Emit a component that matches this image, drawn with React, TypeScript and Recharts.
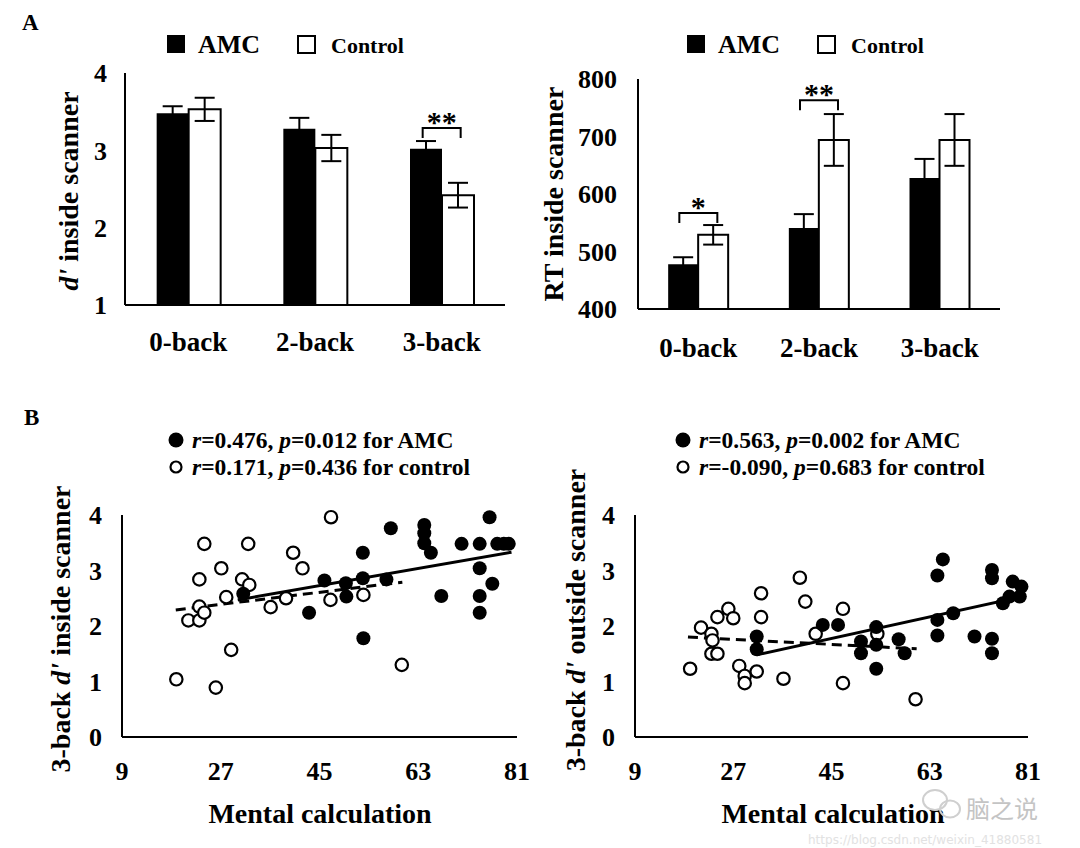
import React from 'react';
import {
  BarChart,
  Bar,
  ErrorBar,
  XAxis,
  YAxis,
  ReferenceDot,
  ScatterChart,
  Scatter,
  ReferenceLine,
} from 'recharts';

const FONT = "'Liberation Serif', 'Times New Roman', serif";

// Panel A: n-back performance inside the scanner
const conditions = ['0-back', '2-back', '3-back'];
const dprimeAmc = [3.48, 3.28, 3.02];
const dprimeAmcErr = [0.09, 0.14, 0.1];
const dprimeCtrl = [3.53, 3.03, 2.42];
const dprimeCtrlErr = [0.15, 0.17, 0.16];
const dprimeTicks = [1, 2, 3, 4];

const rtAmc = [478, 541, 628];
const rtAmcErr = [12, 24, 33];
const rtCtrl = [529, 694, 694];
const rtCtrlErr = [17, 45, 45];
const rtTicks = [400, 500, 600, 700, 800];

// significance brackets (y in data units)
const dprimeSig = [{ cond: '3-back', y: 3.29, label: '**' }];
const rtSig = [
  { cond: '0-back', y: 567, label: '*' },
  { cond: '2-back', y: 763, label: '**' },
];

// Panel B: mental calculation vs 3-back d'
const calcTicks = [9, 27, 45, 63, 81];
const dTicks = [0, 1, 2, 3, 4];

const amcInside = [
  [58.0, 3.76], [64.1, 3.82], [64.1, 3.67], [64.1, 3.49], [65.3, 3.32],
  [76.0, 3.96], [70.9, 3.48], [74.2, 3.48], [77.4, 3.48], [78.6, 3.48],
  [79.5, 3.48], [74.2, 3.04], [76.5, 2.76], [74.2, 2.54], [74.2, 2.24],
  [67.2, 2.54], [52.9, 3.32], [52.9, 2.86], [45.9, 2.82], [49.8, 2.77],
  [49.9, 2.53], [57.2, 2.84], [43.1, 2.24], [53.0, 1.78], [31.1, 2.58],
];
const ctrlInside = [
  [18.9, 1.04], [26.1, 0.89], [28.9, 1.57], [21.1, 2.1], [23.1, 2.1],
  [23.1, 2.35], [24.0, 2.24], [23.1, 2.84], [24.0, 3.48], [27.1, 3.04],
  [28.0, 2.52], [30.9, 2.84], [32.2, 2.74], [32.0, 3.48], [36.1, 2.34],
  [38.9, 2.5], [40.2, 3.32], [41.9, 3.04], [47.1, 3.96], [47.0, 2.47],
  [53.0, 2.56], [60.0, 1.3],
];
const amcOutside = [
  [31.3, 1.81], [31.3, 1.58], [43.4, 2.02], [46.2, 2.02], [50.4, 1.72],
  [50.4, 1.51], [53.2, 1.98], [53.2, 1.66], [53.2, 1.23], [57.3, 1.76],
  [58.4, 1.51], [64.4, 2.91], [65.4, 3.2], [64.4, 2.11], [64.4, 1.83],
  [67.3, 2.23], [71.2, 1.81], [74.4, 3.01], [74.4, 2.86], [74.4, 1.77],
  [74.4, 1.51], [76.4, 2.41], [78.2, 2.8], [79.8, 2.71], [77.6, 2.53],
  [79.5, 2.53],
];
const ctrlOutside = [
  [19.1, 1.23], [21.1, 1.97], [23.0, 1.86], [23.2, 1.74], [23.0, 1.5],
  [24.1, 1.5], [24.1, 2.16], [26.1, 2.31], [27.0, 2.14], [28.1, 1.28],
  [29.1, 1.1], [29.1, 0.97], [31.3, 1.18], [32.1, 2.16], [32.1, 2.59],
  [36.2, 1.05], [39.2, 2.87], [40.2, 2.44], [42.1, 1.86], [47.1, 2.31],
  [47.1, 0.97], [53.4, 1.86], [60.4, 0.68],
];

// regression line end points
const amcInsideFit = [[30.1, 2.47], [80.0, 3.33]];
const ctrlInsideFit = [[18.8, 2.29], [60.1, 2.79]];
const amcOutsideFit = [[31.3, 1.48], [79.5, 2.52]];
const ctrlOutsideFit = [[18.7, 1.8], [60.6, 1.59]];

const insideStats = { amcR: '0.476', amcP: '0.012', ctrlR: '0.171', ctrlP: '0.436' };
const outsideStats = { amcR: '0.563', amcP: '0.002', ctrlR: '-0.090', ctrlP: '0.683' };

const axisLine = { stroke: '#000', strokeWidth: 2 };
const tickStyle = (size: number) => ({
  fill: '#000',
  fontSize: size,
  fontWeight: 700,
  fontFamily: FONT,
});

const toRows = (amc: number[], amcErr: number[], ctrl: number[], ctrlErr: number[]) =>
  conditions.map((cond, i) => ({
    cond,
    amc: amc[i],
    amcErr: amcErr[i],
    ctrl: ctrl[i],
    ctrlErr: ctrlErr[i],
  }));

const toPoints = (pairs: number[][]) => pairs.map(([x, y]) => ({ x, y }));

function Bracket(props: any) {
  const { cx, cy, label } = props;
  if (cx == null || cy == null) return null;
  return (
    <g>
      <path
        d={`M${cx - 19},${cy + 10}V${cy}H${cx + 19}V${cy + 10}`}
        stroke="#000"
        strokeWidth={2}
        fill="none"
      />
      <text
        x={cx}
        y={cy + 4}
        textAnchor="middle"
        fontSize={30}
        fontWeight={700}
        fontFamily={FONT}
        fill="#000"
      >
        {label}
      </text>
    </g>
  );
}

const FilledDot = (p: any) => <circle cx={p.cx} cy={p.cy} r={7} fill="#000" />;
const OpenDot = (p: any) => (
  <circle cx={p.cx} cy={p.cy} r={6.2} fill="#fff" stroke="#000" strokeWidth={2.2} />
);

function BarPanel({ rows, domain, ticks, sig, left, margin, xTickMargin, yTickMargin }: any) {
  return (
    <div style={{ position: 'absolute', left, top: 0, width: 540, height: 380 }}>
      <BarChart
        width={540}
        height={380}
        data={rows}
        margin={margin}
        barCategoryGap="25%"
        barGap={0}
      >
        <XAxis
          dataKey="cond"
          axisLine={axisLine}
          tickLine={false}
          tick={tickStyle(27)}
          tickMargin={xTickMargin}
          height={50}
          interval={0}
        />
        <YAxis
          domain={domain}
          ticks={ticks}
          width={60}
          axisLine={axisLine}
          tickLine={false}
          tick={tickStyle(26)}
          tickMargin={yTickMargin}
          interval={0}
        />
        <Bar dataKey="amc" fill="#000" isAnimationActive={false}>
          <ErrorBar dataKey="amcErr" width={10} stroke="#000" strokeWidth={2} />
        </Bar>
        <Bar dataKey="ctrl" fill="#fff" stroke="#000" strokeWidth={2} isAnimationActive={false}>
          <ErrorBar dataKey="ctrlErr" width={10} stroke="#000" strokeWidth={2} />
        </Bar>
        {sig.map((s: any) => (
          <ReferenceDot
            key={s.cond}
            x={s.cond}
            y={s.y}
            r={0}
            ifOverflow="visible"
            shape={(p: any) => <Bracket {...p} label={s.label} />}
          />
        ))}
      </BarChart>
    </div>
  );
}

function ScatterPanel({ amc, ctrl, amcFit, ctrlFit, left, margin }: any) {
  return (
    <div style={{ position: 'absolute', left, top: 400, width: 540, height: 448 }}>
      <ScatterChart width={540} height={448} margin={margin}>
        <XAxis
          type="number"
          dataKey="x"
          domain={[9, 81]}
          ticks={calcTicks}
          axisLine={axisLine}
          tickLine={false}
          tick={tickStyle(26)}
          tickMargin={19}
          height={60}
          interval={0}
        />
        <YAxis
          type="number"
          dataKey="y"
          domain={[0, 4]}
          ticks={dTicks}
          width={60}
          axisLine={axisLine}
          tickLine={false}
          tick={tickStyle(26)}
          tickMargin={14}
          interval={0}
        />
        <Scatter data={toPoints(ctrl)} shape={OpenDot} isAnimationActive={false} />
        <Scatter data={toPoints(amc)} shape={FilledDot} isAnimationActive={false} />
        <ReferenceLine segment={toPoints(amcFit)} stroke="#000" strokeWidth={3} />
        <ReferenceLine
          segment={toPoints(ctrlFit)}
          stroke="#000"
          strokeWidth={3}
          strokeDasharray="10 6"
        />
      </ScatterChart>
    </div>
  );
}

function StatLegend({ x, stats }: any) {
  const t = { fontSize: 23.5, fontWeight: 700, fontFamily: FONT, fill: '#000' };
  return (
    <g>
      <circle cx={x} cy={440} r={7.5} fill="#000" />
      <text x={x + 16} y={448} {...t}>
        <tspan fontStyle="italic">r</tspan>={stats.amcR}, <tspan fontStyle="italic">p</tspan>
        ={stats.amcP} for AMC
      </text>
      <circle cx={x} cy={467} r={5.5} fill="#fff" stroke="#000" strokeWidth={2.2} />
      <text x={x + 16} y={475} {...t}>
        <tspan fontStyle="italic">r</tspan>={stats.ctrlR}, <tspan fontStyle="italic">p</tspan>
        ={stats.ctrlP} for control
      </text>
    </g>
  );
}

function BarLegend({ x }: any) {
  return (
    <g fontFamily={FONT} fontWeight={700} fill="#000">
      <rect x={x} y={35} width={18} height={18} fill="#000" />
      <text x={x + 31} y={53} fontSize={26}>AMC</text>
      <rect x={x + 131} y={36} width={17} height={17} fill="#fff" stroke="#000" strokeWidth={2} />
      <text x={x + 164} y={53} fontSize={22}>Control</text>
    </g>
  );
}

function AxisTitle({ x, y, children, rotate }: any) {
  return (
    <text
      x={x}
      y={y}
      textAnchor="middle"
      fontSize={28}
      fontWeight={700}
      fontFamily={FONT}
      fill="#000"
      transform={rotate ? `rotate(-90 ${x} ${y})` : undefined}
    >
      {children}
    </text>
  );
}

export default function App() {
  return (
    <div
      style={{
        position: 'absolute',
        left: 0,
        top: 0,
        width: 1080,
        height: 848,
        background: '#fff',
        overflow: 'hidden',
      }}
    >
      <BarPanel
        rows={toRows(dprimeAmc, dprimeAmcErr, dprimeCtrl, dprimeCtrlErr)}
        domain={[1, 4]}
        ticks={dprimeTicks}
        sig={dprimeSig}
        left={0}
        margin={{ top: 73, right: 35, bottom: 25, left: 65 }}
        xTickMargin={21}
        yTickMargin={12}
      />
      <BarPanel
        rows={toRows(rtAmc, rtAmcErr, rtCtrl, rtCtrlErr)}
        domain={[400, 800]}
        ticks={rtTicks}
        sig={rtSig}
        left={540}
        margin={{ top: 79, right: 80, bottom: 21, left: 38 }}
        xTickMargin={23}
        yTickMargin={15}
      />
      <ScatterPanel
        amc={amcInside}
        ctrl={ctrlInside}
        amcFit={amcInsideFit}
        ctrlFit={ctrlInsideFit}
        left={0}
        margin={{ top: 115, right: 23, bottom: 51, left: 62 }}
      />
      <ScatterPanel
        amc={amcOutside}
        ctrl={ctrlOutside}
        amcFit={amcOutsideFit}
        ctrlFit={ctrlOutsideFit}
        left={540}
        margin={{ top: 115, right: 52, bottom: 51, left: 35 }}
      />
      <svg
        width={1080}
        height={848}
        style={{ position: 'absolute', left: 0, top: 0, pointerEvents: 'none' }}
      >
        <text x={22} y={30} fontSize={23} fontWeight={700} fontFamily={FONT}>A</text>
        <text x={24} y={425} fontSize={23} fontWeight={700} fontFamily={FONT}>B</text>

        <BarLegend x={167} />
        <BarLegend x={687} />

        <AxisTitle x={78} y={191} rotate>
          <tspan fontStyle="italic">d'</tspan> inside scanner
        </AxisTitle>
        <AxisTitle x={563} y={194} rotate>
          RT inside scanner
        </AxisTitle>
        <AxisTitle x={70} y={629} rotate>
          3-back <tspan fontStyle="italic">d'</tspan> inside scanner
        </AxisTitle>
        <AxisTitle x={585} y={620} rotate>
          3-back <tspan fontStyle="italic">d'</tspan> outside scanner
        </AxisTitle>
        <AxisTitle x={320} y={823}>Mental calculation</AxisTitle>
        <AxisTitle x={833} y={823}>Mental calculation</AxisTitle>

        <StatLegend x={176} stats={insideStats} />
        <StatLegend x={683} stats={outsideStats} />

        {/* watermark */}
        <g fill="none" stroke="#cfcfcf" strokeWidth={2}>
          <ellipse cx={935} cy={800} rx={12} ry={10} />
          <ellipse cx={950} cy={809} rx={10} ry={8.5} />
        </g>
        <text
          x={966}
          y={818}
          fontSize={24}
          fontFamily="'Noto Sans CJK SC', sans-serif"
          fill="#c4c4c4"
        >
          脑之说
        </text>
        <text x={808} y={844} fontSize={12} fontFamily="'DejaVu Sans', sans-serif" fill="#e2e2e2">
          https://blog.csdn.net/weixin_41880581
        </text>
      </svg>
    </div>
  );
}
